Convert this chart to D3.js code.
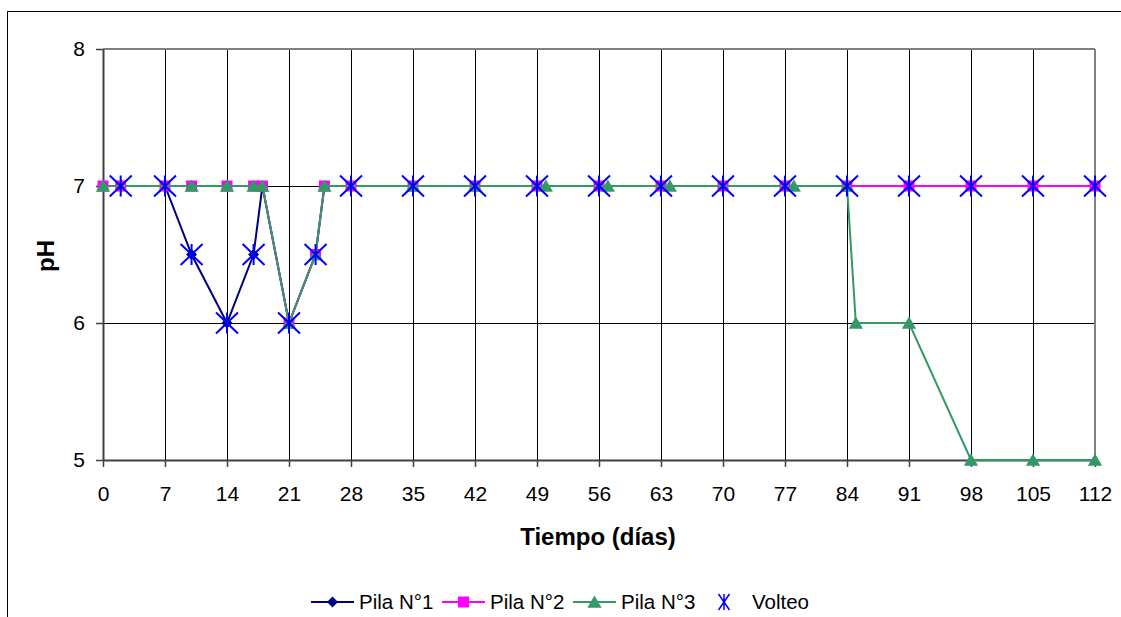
<!DOCTYPE html>
<html>
<head>
<meta charset="utf-8">
<script src="https://cdn.jsdelivr.net/npm/d3@7"></script>
<style>
  body { margin: 0; background: #fff; }
  svg text { font-family: "Liberation Sans", Arial, sans-serif; }
</style>
</head>
<body>
<svg id="chart" width="1121" height="617"></svg>
<script>
// pH de las pilas de compost a lo largo del tiempo
const xTicks = [0, 7, 14, 21, 28, 35, 42, 49, 56, 63, 70, 77, 84, 91, 98, 105, 112];
const yTicks = [5, 6, 7, 8];

const pila1Dias = [0, 2, 7, 10, 14, 17, 18, 21, 24, 25, 28, 35, 42, 49, 56, 63, 70, 77, 84, 91, 98, 105, 112];
const pila1PH   = [7, 7, 7, 6.5, 6, 6.5, 7, 6, 6.5, 7, 7, 7, 7, 7, 7, 7, 7, 7, 7, 7, 7, 7, 7];

const pila2Dias = [0, 2, 7, 10, 14, 17, 18, 21, 24, 25, 28, 35, 42, 49, 56, 63, 70, 77, 84, 91, 98, 105, 112];
const pila2PH   = [7, 7, 7, 7, 7, 7, 7, 6, 6.5, 7, 7, 7, 7, 7, 7, 7, 7, 7, 7, 7, 7, 7, 7];

const pila3Dias = [0, 10, 14, 17, 18, 21, 24, 25, 35, 42, 50, 57, 64, 78, 84, 85, 91, 98, 105, 112];
const pila3PH   = [7, 7, 7, 7, 7, 6, 6.5, 7, 7, 7, 7, 7, 7, 7, 7, 6, 6, 5, 5, 5];

const volteoDias = [2, 7, 10, 14, 17, 21, 24, 28, 35, 42, 49, 56, 63, 70, 77, 84, 91, 98, 105, 112];
const volteoPH   = [7, 7, 6.5, 6, 6.5, 6, 6.5, 7, 7, 7, 7, 7, 7, 7, 7, 7, 7, 7, 7, 7];

const svg = d3.select("#chart");

// marco exterior del gráfico
svg.append("rect").attr("x", 7.5).attr("y", 11.5).attr("width", 1130).attr("height", 620)
  .attr("fill", "#fff").attr("stroke", "#000").attr("stroke-width", 1);

const pLeft = 103, pRight = 1095, pTop = 49, pBottom = 460;
const x = d3.scaleLinear().domain([0, 112]).range([pLeft, pRight]);
const y = d3.scaleLinear().domain([5, 8]).range([pBottom, pTop]);

// cuadrícula
const grid = svg.append("g").attr("shape-rendering", "crispEdges");
grid.selectAll(".vx").data(xTicks.filter(d => d > 0 && d < 112)).enter().append("line")
  .attr("x1", d => x(d)).attr("x2", d => x(d)).attr("y1", pTop).attr("y2", pBottom)
  .attr("stroke", "#000").attr("stroke-width", 1);
grid.selectAll(".hy").data(yTicks.filter(d => d > 5 && d < 8)).enter().append("line")
  .attr("x1", pLeft).attr("x2", pRight).attr("y1", d => y(d)).attr("y2", d => y(d))
  .attr("stroke", "#000").attr("stroke-width", 1);
// borde del área de trazado
grid.append("line").attr("x1", pLeft).attr("x2", pRight).attr("y1", pTop).attr("y2", pTop).attr("stroke", "#808080").attr("stroke-width", 2);
grid.append("line").attr("x1", pRight).attr("x2", pRight).attr("y1", pTop).attr("y2", pBottom).attr("stroke", "#808080").attr("stroke-width", 2);

// ejes
const xAxis = svg.append("g").attr("transform", `translate(0,${pBottom})`)
  .call(d3.axisBottom(x).tickValues(xTicks).tickFormat(d3.format("d")).tickSize(7).tickPadding(19).tickSizeOuter(0));
const yAxis = svg.append("g").attr("transform", `translate(${pLeft},0)`)
  .call(d3.axisLeft(y).tickValues(yTicks).tickFormat(d3.format("d")).tickSize(7).tickPadding(11).tickSizeOuter(0));
[xAxis, yAxis].forEach(g => {
  g.select(".domain").attr("stroke", "#404040").attr("stroke-width", 2);
  g.selectAll(".tick line").attr("stroke", "#404040").attr("stroke-width", 1.5);
  g.selectAll(".tick text").attr("font-size", 21).attr("fill", "#000")
    .attr("font-family", "Liberation Sans, Arial, sans-serif");
});

// títulos de los ejes
svg.append("text").attr("x", 598).attr("y", 545).attr("text-anchor", "middle")
  .attr("font-size", 24).attr("font-weight", "bold").text("Tiempo (días)");
svg.append("text").attr("transform", "translate(54,256) rotate(-90)").attr("text-anchor", "middle")
  .attr("font-size", 24).attr("font-weight", "bold").text("pH");

// símbolos
const asterisk = (w, h) => `M${-w},${-h}L${w},${h}M${-w},${h}L${w},${-h}M0,${-h}L0,${h}`;
const shapes = {
  diamond: s => `M0,${-s}L${s},0L0,${s}L${-s},0Z`,
  square: s => `M${-s},${-s}H${s}V${s}H${-s}Z`,
  triangle: s => `M0,${-s}L${s * 1.1},${s * 0.9}L${-s * 1.1},${s * 0.9}Z`
};

const series = [
  { name: "Pila N°1", dias: pila1Dias, ph: pila1PH, color: "#000080", shape: "diamond", size: 5.5 },
  { name: "Pila N°2", dias: pila2Dias, ph: pila2PH, color: "#FF00FF", shape: "square", size: 5.5 },
  { name: "Pila N°3", dias: pila3Dias, ph: pila3PH, color: "#339966", shape: "triangle", size: 6.5 }
];

const line = d3.line().x(d => x(d[0])).y(d => y(d[1]));
series.forEach(s => {
  const pts = s.dias.map((d, i) => [d, s.ph[i]]);
  const g = svg.append("g");
  g.append("path").datum(pts).attr("d", line).attr("fill", "none")
    .attr("stroke", s.color).attr("stroke-width", 2);
  g.selectAll("path.m").data(pts).enter().append("path").attr("class", "m")
    .attr("transform", d => `translate(${x(d[0])},${y(d[1])})`)
    .attr("d", shapes[s.shape](s.size)).attr("fill", s.color);
});

// volteos
svg.append("g").selectAll("path").data(volteoDias.map((d, i) => [d, volteoPH[i]])).enter().append("path")
  .attr("transform", d => `translate(${x(d[0])},${y(d[1])})`)
  .attr("d", asterisk(11, 10.5)).attr("fill", "none").attr("stroke", "#0000FF").attr("stroke-width", 2);

// leyenda
const legend = svg.append("g");
const legendItems = [
  { s: series[0], x0: 311, tx: 359 },
  { s: series[1], x0: 442, tx: 490 },
  { s: series[2], x0: 573, tx: 621 }
];
const ly = 602;
legendItems.forEach(it => {
  legend.append("line").attr("x1", it.x0).attr("x2", it.x0 + 43).attr("y1", ly).attr("y2", ly)
    .attr("stroke", it.s.color).attr("stroke-width", 2);
  legend.append("path").attr("transform", `translate(${it.x0 + 21.5},${ly})`)
    .attr("d", shapes[it.s.shape](it.s.size)).attr("fill", it.s.color);
  legend.append("text").attr("x", it.tx).attr("y", ly + 7).attr("font-size", 20.5).text(it.s.name);
});
legend.append("path").attr("transform", `translate(724,${ly})`)
  .attr("d", asterisk(5.5, 8)).attr("fill", "none").attr("stroke", "#0000FF").attr("stroke-width", 1.5);
legend.append("text").attr("x", 752).attr("y", ly + 7).attr("font-size", 20.5).text("Volteo");
</script>
</body>
</html>
